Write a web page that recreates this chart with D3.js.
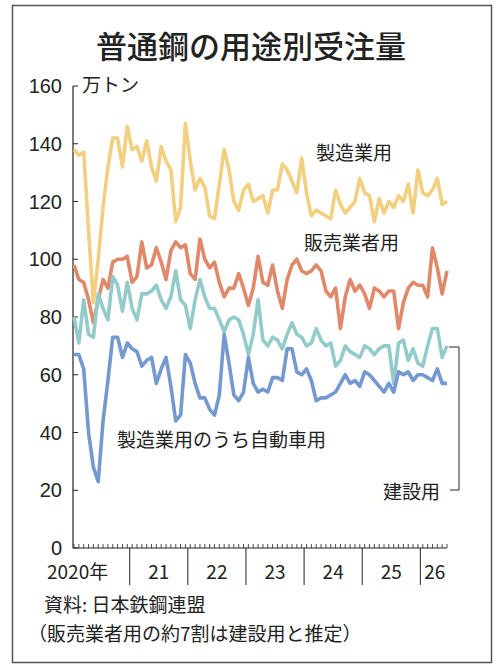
<!DOCTYPE html>
<html><head><meta charset="utf-8">
<script src="https://cdn.jsdelivr.net/npm/d3@7"></script>
<style>body{margin:0;background:#fff}text{font-family:"Noto Sans CJK JP","Noto Sans",sans-serif;fill:#222}.num{font-family:"Liberation Sans",sans-serif}</style>
</head><body><div id="chart"></div>
<script>
// 月次、2020年1月から
const manufacturing = [138,136,137,110,85,100,118,132,142,142,132,146,138,139,134,141,132,127,139,134,131,113,118,147,134,124,128,125,115,114,126,138,131,120,117,124,126,120,121,122,116,124,124,133,131,127,123,135,123,115,117,116,115,114,124,119,116,118,120,128,123,122,113,121,116,120,118,122,120,126,116,131,123,122,124,128,119,120];
const dealers = [98,93,92,86,78,86,93,90,99,100,100,101,92,94,106,97,98,104,99,93,103,106,104,105,95,93,107,100,97,99,92,87,90,90,95,90,84,90,101,92,91,98,89,83,93,98,100,96,95,96,98,96,89,87,90,76,87,93,89,91,88,83,90,89,87,89,89,76,85,90,92,91,91,87,104,97,88,96];
const construction = [80,71,86,74,73,88,83,79,94,91,82,92,83,79,88,88,89,91,86,83,87,96,86,84,76,86,93,87,83,83,79,75,79,80,79,74,67,74,86,72,70,73,72,69,74,78,74,73,70,71,76,72,70,71,63,65,70,68,67,66,70,69,67,69,70,70,57,71,72,65,69,64,63,70,76,76,66,70];
const automotive = [67,67,62,40,28,23,44,58,73,73,66,71,69,68,63,65,66,57,62,66,56,44,46,67,64,57,52,52,48,46,53,74,64,53,51,54,66,57,54,55,54,59,59,58,69,69,61,60,62,58,51,52,52,53,54,57,60,57,58,56,61,60,58,56,54,57,54,61,60,61,58,60,60,59,58,62,57,57];
const yTicks = [0,20,40,60,80,100,120,140,160];
const yearLabels = ["2020年","21","22","23","24","25","26"];

const series = [
  {values: manufacturing, color: "#f3d07f"},
  {values: dealers, color: "#e0896a"},
  {values: construction, color: "#93cbcb"},
  {values: automotive, color: "#7498d0"}
];

const W = 497, H = 668;
const svg = d3.select("#chart").append("svg").attr("width", W).attr("height", H);

svg.append("rect").attr("x", 12.5).attr("y", 5.5).attr("width", 479).attr("height", 657)
  .attr("fill", "none").attr("stroke", "#555").attr("stroke-width", 1.5);

svg.append("text").attr("x", 251).attr("y", 58).attr("text-anchor", "middle")
  .attr("font-size", 31).attr("font-weight", 500).text("普通鋼の用途別受注量");

const x = d3.scaleLinear().domain([0, 77]).range([74, 447]);
const y = d3.scaleLinear().domain([0, 160]).range([548, 86]);
const nMonths = 78;

// y軸
svg.append("line").attr("x1", 73).attr("x2", 73).attr("y1", 86).attr("y2", 548)
  .attr("stroke", "#222").attr("stroke-width", 1.2);
svg.selectAll(".yt").data(yTicks).enter().append("line")
  .attr("x1", 73).attr("x2", 78).attr("y1", d => y(d)).attr("y2", d => y(d))
  .attr("stroke", "#222");
svg.selectAll(".yl").data(yTicks).enter().append("text").attr("class", "num")
  .attr("x", 62).attr("y", d => y(d) + 7).attr("text-anchor", "end")
  .attr("font-size", 20).text(d => d);
svg.append("text").attr("x", 82).attr("y", 92).attr("font-size", 19).text("万トン");

// x軸
svg.append("line").attr("x1", 73).attr("x2", 447).attr("y1", 548).attr("y2", 548)
  .attr("stroke", "#222").attr("stroke-width", 1.2);
svg.selectAll(".mt").data(d3.range(nMonths)).enter().append("line")
  .attr("x1", d => x(d)).attr("x2", d => x(d)).attr("y1", 548).attr("y2", 544)
  .attr("stroke", "#222").attr("stroke-width", 0.8);
const boundaries = d3.range(1, 7).map(k => k * 12 - 0.5);
svg.selectAll(".yb").data(boundaries).enter().append("line")
  .attr("x1", d => x(d)).attr("x2", d => x(d)).attr("y1", 548).attr("y2", 585)
  .attr("stroke", "#222");
svg.selectAll(".yrl").data(yearLabels).enter().append("text")
  .attr("x", (d, i) => i === 0 ? 47 : (i === 6 ? x(74.5) : x(i * 12 + 5.5)))
  .attr("y", 579).attr("text-anchor", (d, i) => i === 0 ? "start" : "middle")
  .attr("font-size", 19).text(d => d);

const line = d3.line().x((d, i) => x(i)).y(d => y(d)).curve(d3.curveLinear);
svg.selectAll(".series").data(series).enter().append("path")
  .attr("d", d => line(d.values)).attr("fill", "none")
  .attr("stroke", d => d.color).attr("stroke-width", 3.6).attr("stroke-linejoin", "round");

// ラベル
const lab = (t, xx, yy) => svg.append("text").attr("x", xx).attr("y", yy).attr("font-size", 19).text(t);
lab("製造業用", 316, 160);
lab("販売業者用", 304, 250);
lab("製造業用のうち自動車用", 117, 447);
lab("建設用", 383, 499);
svg.append("path").attr("d", "M449,347H459V490H450").attr("fill", "none").attr("stroke", "#222");

lab("資料: 日本鉄鋼連盟", 44, 612);
lab("（販売業者用の約7割は建設用と推定）", 28, 641);
</script></body></html>
